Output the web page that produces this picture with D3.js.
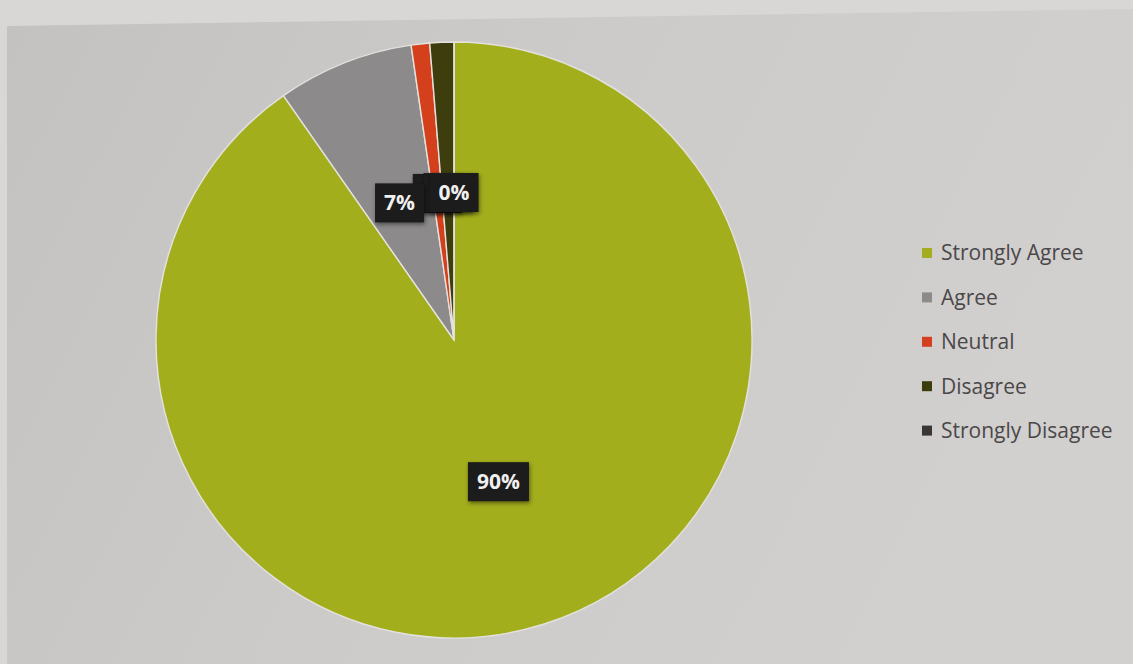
<!DOCTYPE html>
<html>
<head>
<meta charset="utf-8">
<script src="https://cdn.jsdelivr.net/npm/d3@7"></script>
<style>
  html, body { margin: 0; padding: 0; background: #d9d6d6; }
  svg { display: block; }
</style>
</head>
<body>
<svg id="chart" width="1133" height="664"></svg>
<script>
// Survey responses (percent of respondents)
const categories = ["Strongly Agree", "Agree", "Neutral", "Disagree", "Strongly Disagree"];
const values = [90.3, 7.4, 1.0, 1.3, 0];
const colors = ["#a2ae1f", "#8c8a8a", "#d4401f", "#3c3d0c", "#3a3636"];
// data labels stack with the smallest slices underneath
const labelOrder = [2, 3, 0, 1, 4];

const W = 1133, H = 664;
const svg = d3.select("#chart");
const defs = svg.append("defs");

// sheet background
const bg = defs.append("linearGradient").attr("id", "bg").attr("x1", "0").attr("x2", "1").attr("y1", "0").attr("y2", "0.3");
bg.append("stop").attr("offset", "0").attr("stop-color", "#c4c1c1");
bg.append("stop").attr("offset", "0.5").attr("stop-color", "#cdcaca");
bg.append("stop").attr("offset", "1").attr("stop-color", "#d2cfcf");

const shadow = defs.append("filter").attr("id", "shadow").attr("x", "-30%").attr("y", "-30%").attr("width", "160%").attr("height", "170%");
shadow.append("feDropShadow").attr("dx", 1).attr("dy", 2).attr("stdDeviation", 2).attr("flood-color", "#000").attr("flood-opacity", 0.45);

const soft = defs.append("filter").attr("id", "soft");
soft.append("feGaussianBlur").attr("stdDeviation", 0.6);

svg.append("rect").attr("width", W).attr("height", H).attr("fill", "#d9d6d6");
svg.append("path")
  .attr("d", d3.line()([[7, 26], [W, 9], [W, H], [7, H]]) + "Z")
  .attr("fill", "url(#bg)");

// pie
const cx = 454, cy = 340, R = 298;
const pie = d3.pie().sort(null).value(d => d)(values);
const arc = d3.arc().innerRadius(0).outerRadius(R);
const labelArc = d3.arc().innerRadius(148).outerRadius(148);

const g = svg.append("g").attr("transform", `translate(${cx},${cy})`);
g.append("g").attr("filter", "url(#soft)")
  .selectAll("path")
  .data(pie)
  .join("path")
  .attr("d", arc)
  .attr("fill", (d, i) => colors[i])
  .attr("stroke", "#e4e2dc")
  .attr("stroke-width", 1.4);

// data labels: white bold text on dark boxes
const labels = g.append("g");
labelOrder.forEach(i => {
  const d = pie[i];
  const [lx, ly] = labelArc.centroid(d);
  const t = Math.round(values[i]) + "%";
  const lg = labels.append("g").attr("transform", `translate(${lx},${ly})`);
  const rect = lg.append("rect").attr("fill", "#1b1a1b").attr("filter", "url(#shadow)");
  const txt = lg.append("text")
    .attr("text-anchor", "middle")
    .attr("dy", "0.36em")
    .attr("fill", "#f0f0f0")
    .attr("font-family", "Open Sans, Lato, sans-serif")
    .attr("font-weight", 700)
    .attr("font-size", 21)
    .text(t);
  const bb = txt.node().getBBox();
  rect.attr("x", bb.x - 9).attr("y", -19).attr("width", bb.width + 18).attr("height", 39);
});

// legend
const legend = svg.append("g").attr("transform", "translate(922,253)");
const rowH = 44.4;
categories.forEach((c, i) => {
  const row = legend.append("g").attr("transform", `translate(0,${i * rowH})`);
  row.append("rect").attr("x", 0).attr("y", -5).attr("width", 10).attr("height", 10).attr("fill", colors[i]);
  row.append("text")
    .attr("x", 19).attr("dy", "0.35em")
    .attr("fill", "#4a4848")
    .attr("font-family", "Open Sans, Lato, sans-serif")
    .attr("font-size", 21)
    .text(c);
});
</script>
</body>
</html>
